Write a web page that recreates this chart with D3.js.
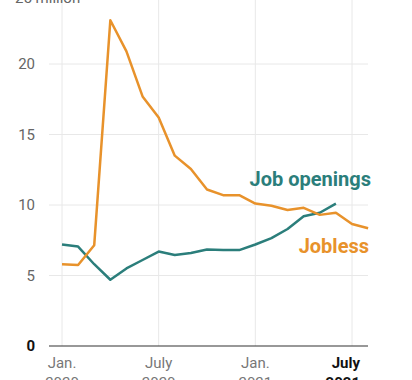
<!DOCTYPE html>
<html>
<head>
<meta charset="utf-8">
<script src="https://cdn.jsdelivr.net/npm/d3@7"></script>
<style>
  body { margin: 0; background: #fff; }
  svg { display: block; font-family: Roboto, "Liberation Sans", sans-serif; }
</style>
</head>
<body>
<div id="chart"></div>
<script>
// Monthly values, Jan 2020 = month 0 (millions)
const jobless = [5.8, 5.75, 7.15, 23.1, 20.9, 17.7, 16.2, 13.5, 12.55, 11.1, 10.7, 10.7,
                 10.1, 9.95, 9.65, 9.8, 9.3, 9.45, 8.65, 8.35];
const openings = [7.2, 7.05, 5.8, 4.7, 5.5, 6.1, 6.7, 6.45, 6.6, 6.85, 6.8, 6.8,
                  7.2, 7.65, 8.3, 9.2, 9.45, 10.1];
const yTicks = [0, 5, 10, 15, 20, 25];
const xTicks = [0, 6, 12, 18];
const xTickMonth = ["Jan.", "July", "Jan.", "July"];
const xTickYear = ["2020", "2020", "2021", "2021"];

const width = 412, height = 380;
const svg = d3.select("#chart").append("svg")
    .attr("width", width)
    .attr("height", height);

const x = d3.scaleLinear().domain([0, 18]).range([62, 352]);
const y = d3.scaleLinear().domain([0, 25]).range([346, -6.5]);

// Gridlines
svg.append("g").selectAll("line.h")
    .data(yTicks.filter(d => d > 0))
    .enter().append("line")
    .attr("x1", 49).attr("x2", 368)
    .attr("y1", d => y(d)).attr("y2", d => y(d))
    .attr("stroke", "#e8e8e8").attr("stroke-width", 1);

svg.append("g").selectAll("line.v")
    .data(xTicks)
    .enter().append("line")
    .attr("x1", d => x(d)).attr("x2", d => x(d))
    .attr("y1", 0).attr("y2", y(0))
    .attr("stroke", "#e8e8e8").attr("stroke-width", 1);

// Zero line
svg.append("line")
    .attr("x1", 49).attr("x2", 368)
    .attr("y1", y(0)).attr("y2", y(0))
    .attr("stroke", "#333").attr("stroke-width", 1.2);

// Y labels
svg.append("g").selectAll("text")
    .data(yTicks.filter(d => d < 25))
    .enter().append("text")
    .attr("x", 35)
    .attr("y", d => y(d) + 5)
    .attr("text-anchor", "end")
    .style("font-size", "15px")
    .style("font-weight", d => d === 0 ? "bold" : "normal")
    .attr("fill", d => d === 0 ? "#111" : "#666")
    .text(d => d);

svg.append("text")
    .attr("x", 15).attr("y", 3)
    .style("font-size", "15px")
    .attr("fill", "#666")
    .text("25 million");

// X labels
const xl = svg.append("g").selectAll("g")
    .data(xTicks)
    .enter().append("g");
xl.append("text")
    .attr("x", (d, i) => i === 3 ? x(d) + 8 : x(d))
    .attr("y", 368)
    .attr("text-anchor", (d, i) => i === 3 ? "end" : "middle")
    .style("font-size", "15px")
    .style("font-weight", (d, i) => i === 3 ? "bold" : "normal")
    .attr("fill", (d, i) => i === 3 ? "#111" : "#777")
    .text((d, i) => xTickMonth[i]);
xl.append("text")
    .attr("x", (d, i) => i === 3 ? x(d) + 8 : x(d))
    .attr("y", 388)
    .attr("text-anchor", (d, i) => i === 3 ? "end" : "middle")
    .style("font-size", "15px")
    .style("font-weight", (d, i) => i === 3 ? "bold" : "normal")
    .attr("fill", (d, i) => i === 3 ? "#111" : "#777")
    .text((d, i) => xTickYear[i]);

// Lines
const line = d3.line().x((d, i) => x(i)).y(d => y(d));

svg.append("path")
    .datum(openings)
    .attr("d", line)
    .attr("fill", "none")
    .attr("stroke", "#2b7e7b")
    .attr("stroke-width", 2.5)
    .attr("stroke-linejoin", "round");

svg.append("path")
    .datum(jobless)
    .attr("d", line)
    .attr("fill", "none")
    .attr("stroke", "#e8922b")
    .attr("stroke-width", 2.5)
    .attr("stroke-linejoin", "round");

// Series labels
svg.append("text")
    .attr("x", 371).attr("y", 186)
    .attr("text-anchor", "end")
    .style("font-size", "20px")
    .style("font-weight", "bold")
    .attr("fill", "#2b7e7b")
    .text("Job openings");

svg.append("text")
    .attr("x", 369).attr("y", 253)
    .attr("text-anchor", "end")
    .style("font-size", "20px")
    .style("font-weight", "bold")
    .attr("fill", "#e8922b")
    .text("Jobless");
</script>
</body>
</html>
